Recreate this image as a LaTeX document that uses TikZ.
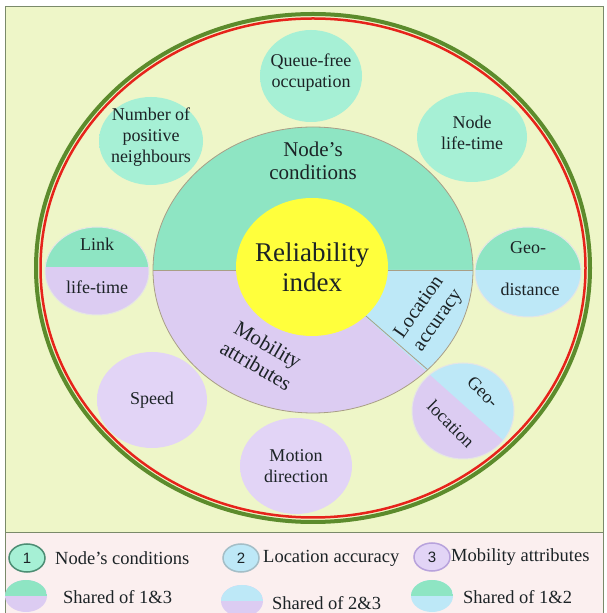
\documentclass[tikz,border=0pt]{standalone}
\usepackage{fontspec}
\setmainfont{Liberation Serif}
\newfontfamily\numfont{Liberation Sans}
\usetikzlibrary{shapes.geometric}
\definecolor{panel}{HTML}{EEF6C8}
\definecolor{legbg}{HTML}{FBEFEF}
\definecolor{frame}{HTML}{7A8A6A}
\definecolor{condgreen}{HTML}{8EE5C3}
\definecolor{mintin}{HTML}{A6F0D5}
\definecolor{mintout}{HTML}{6CC9A5}
\definecolor{mobil}{HTML}{DCCCF2}
\definecolor{lavin}{HTML}{E2D4F6}
\definecolor{lavout}{HTML}{B8A2DC}
\definecolor{locblue}{HTML}{BDE8F7}
\definecolor{yelin}{HTML}{FFFF3C}
\definecolor{yelout}{HTML}{E0CC00}
\definecolor{ringgreen}{HTML}{5C8B2C}
\definecolor{ringred}{HTML}{E6231B}
\definecolor{discline}{HTML}{A99F86}
\definecolor{ink}{HTML}{1C2326}
\colorlet{rimin}{mintin}
\colorlet{rimout}{mintout}
\pgfdeclareradialshading[rimin,rimout]{button}{\pgfpointorigin}{color(0bp)=(rimin); color(30bp)=(rimin); color(50bp)=(rimout)}
\begin{document}
\begin{tikzpicture}[x=1pt,y=1pt,
  btngreen/.style={ellipse, inner sep=0pt, shade, shading=button, /utils/exec={\colorlet{rimin}{mintin}\colorlet{rimout}{mintout}}},
  btnlav/.style={ellipse, inner sep=0pt, shade, shading=button, /utils/exec={\colorlet{rimin}{lavin}\colorlet{rimout}{lavout}}},
  btnyellow/.style={ellipse, inner sep=0pt, shade, shading=button, /utils/exec={\colorlet{rimin}{yelin}\colorlet{rimout}{yelout}}},
  splitgl/.style={ellipse, inner sep=0pt, fill=mobil, draw=black!10, line width=1,
    path picture={\fill[condgreen] ([yshift=#1]path picture bounding box.west) rectangle (path picture bounding box.north east);}},
  splitgl/.default=0pt,
  splitgb/.style={ellipse, inner sep=0pt, fill=locblue, draw=black!10, line width=1,
    path picture={\fill[condgreen] ([yshift=#1]path picture bounding box.west) rectangle (path picture bounding box.north east);}},
  splitgb/.default=0pt,
  splitbl/.style={ellipse, inner sep=0pt, fill=mobil, draw=black!10, line width=1,
    path picture={\fill[locblue] (accA) -- (accB) -- (accC) -- cycle;}},
  lab/.style={align=center, inner sep=0pt, text=ink, font=\fontsize{18}{21}\selectfont},
  key/.style={ellipse, minimum width=36, minimum height=28, inner sep=0pt, line width=1.5, text=ink, font=\numfont\fontsize{15}{15}\selectfont},
  sharedkey/.style={minimum width=42, minimum height=32},
  keytxt/.style={anchor=west, inner sep=0pt, text=ink, font=\fontsize{18.5}{20}\selectfont}]
\useasboundingbox (0,0) rectangle (606,613);
\fill[white] (0,0) rectangle (606,613);
\filldraw[fill=panel, draw=frame, line width=1] (5,606) rectangle (603,80);
\filldraw[fill=legbg, draw=frame, line width=1] (5,80) rectangle (603,-2);

\coordinate (ctr) at (313,345);
\draw[ringgreen, line width=4] (ctr) ellipse [x radius=277, y radius=254];
\draw[ringred, line width=2.5] (ctr) ellipse [x radius=272.5, y radius=249.5];

\node[ellipse, minimum width=320, minimum height=286, inner sep=0pt, fill=mobil, draw=discline, line width=0.8,
  path picture={\fill[condgreen] (path picture bounding box.west) rectangle (path picture bounding box.north east);
    \fill[locblue] (path picture bounding box.center) -- ++(170,0) -- ++(0,-152) -- cycle;}] (disc) at (313,343) {};
\draw[discline, line width=0.8] (disc.west) -- (disc.east);
\draw[discline, line width=0.8] (disc.center) -- (disc.-41.8);
\node[btnyellow, minimum width=152, minimum height=138] (core) at (312,346) {};
\node[lab, font=\fontsize{27}{30}\selectfont] at (core) {Reliability\\index};
\node[lab, font=\fontsize{21}{23}\selectfont] (condlab) at (313,452) {Node's\\conditions};
\node[lab, font=\fontsize{21}{24}\selectfont, rotate=-30] (moblab) at (262,258) {Mobility\\attributes};
\node[lab, font=\fontsize{20}{23}\selectfont, rotate=55] (loclab) at (429,299) {Location\\accuracy};

\coordinate (accA) at (400,265);
\coordinate (accB) at (560,122);
\coordinate (accC) at (560,265);

\node[btngreen, minimum width=102, minimum height=92] (queue) at (311,537) {};
\node[lab] at ([yshift=3]queue.center) {Queue-free\\occupation};
\node[btngreen, minimum width=104, minimum height=88] (posnb) at (151,472) {};
\node[lab] at ([yshift=4]posnb.center) {Number of\\positive\\neighbours};
\node[btngreen, minimum width=110, minimum height=90] (nlife) at (472,476) {};
\node[lab] at ([yshift=4]nlife.center) {Node\\life-time};
\node[splitgl=4pt, minimum width=104, minimum height=88] (llife) at (97,342) {};
\node[lab] at (97,369) {Link};
\node[lab] at (97,326) {life-time};
\node[splitgb=2pt, minimum width=106, minimum height=90] (geod) at (528,341) {};
\node[lab] at (528,365) {Geo-};
\node[lab] at (530,324) {distance};
\node[btnlav, minimum width=110, minimum height=96] (speed) at (152,213) {};
\node[lab] at (speed) {Speed};
\node[btnlav, minimum width=112, minimum height=96] (motion) at (296,147) {};
\node[lab] at (motion) {Motion\\direction};
\node[splitbl, minimum width=102, minimum height=96] (geol) at (463,202) {};
\node[lab, rotate=-45] at (483,221) {Geo-};
\node[lab, rotate=-45] at (451,189) {location};

\node[key, fill=mintin, draw=mintout!70!black] (key1) at (27,55) {1};
\node[keytxt] at (55,55) {Node's conditions};
\node[key, fill=locblue, draw=locblue!60!gray] (key2) at (241,55) {2};
\node[keytxt] at (263,55) {Location accuracy};
\node[key, fill=lavin, draw=lavout] (key3) at (432,56) {3};
\node[keytxt] at (451,56) {Mobility attributes};
\node[splitgl, sharedkey, draw=none] (shared1) at (26,17) {};
\node[keytxt] at (63,16) {Shared of 1\&3};
\node[sharedkey, ellipse, inner sep=0pt, draw=none, fill=mobil,
  path picture={\fill[locblue] (path picture bounding box.west) rectangle (path picture bounding box.north east);}] (shared2) at (242,12) {};
\node[keytxt] at (272,10) {Shared of 2\&3};
\node[splitgb, sharedkey, draw=none] (shared3) at (432,17) {};
\node[keytxt] at (463,16) {Shared of 1\&2};
\end{tikzpicture}
\end{document}
